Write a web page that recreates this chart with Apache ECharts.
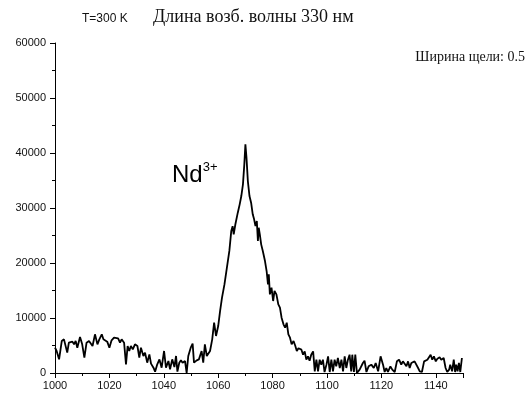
<!DOCTYPE html>
<html>
<head>
<meta charset="utf-8">
<script src="https://cdn.jsdelivr.net/npm/echarts@6/dist/echarts.min.js"></script>
<style>html,body{margin:0;padding:0;background:#fff}#c{width:527px;height:396px}</style>
</head>
<body>
<div id="c"></div>
<script>
// Data (wavelength in nm, intensity in counts)
var wavelength = [
1000.0,1000.6,1001.5,1002.5,1003.3,1003.9,1004.5,1005.1,1005.8,1006.4,1007.0,1007.6,1008.2,1009.2,1010.0,1010.8,1011.6,1012.5,1013.2,1013.8,
1014.7,1015.6,1016.3,1017.2,1017.8,1018.4,1019.2,1020.0,1020.8,1021.7,1022.4,1023.2,1023.9,1024.5,1025.4,1026.1,1026.7,1027.3,1027.9,1028.6,
1029.4,1030.3,1031.0,1031.6,1032.5,1033.1,1033.9,1034.7,1035.3,1036.2,1036.8,1037.6,1038.4,1039.2,1040.1,1040.8,1041.7,1042.3,1043.1,1043.9,
1044.5,1045.0,1045.7,1046.3,1046.9,1047.8,1048.4,1049.0,1049.9,1050.6,1051.1,1052.1,1052.9,1053.9,1054.5,1055.1,1055.8,1056.4,1057.0,1057.8,
1058.5,1059.2,1060.0,1060.7,
1061.4,1062.3,1063.2,1064.1,1064.8,1065.3,1065.7,1066.3,1067.2,1067.9,1068.5,1069.1,1069.6,1070.0,1070.4,1070.9,1071.5,1072.1,1072.7,1073.2,
1073.7,1074.2,1074.6,1074.9,1075.3,1075.8,1076.4,1077.2,1077.8,1078.3,1078.6,1079.0,1079.6,1080.2,1080.7,1081.4,1082.1,1082.7,1083.3,1084.0,
1084.6,1085.2,1085.8,1086.4,1087.0,1087.7,1088.3,1088.9,1089.5,
1090.0,1090.6,1091.2,1091.8,1092.4,1093.0,1093.6,1094.2,1094.9,1095.5,1096.1,1096.7,1097.3,1097.9,1098.5,1099.1,1099.8,1100.4,1101.0,1101.6,
1102.2,1102.8,1103.4,1104.0,1104.7,1105.3,1105.9,1106.5,1107.1,1107.7,1108.3,1108.9,1109.3,1109.9,1110.4,1111.0,1112.0,1113.2,1113.8,1114.5,
1115.3,1116.3,1117.2,1117.9,1118.8,1119.7,1120.6,1121.2,1121.8,1122.4,1123.3,1124.0,1124.9,1125.7,1126.5,1127.3,1127.9,1128.6,1129.2,1129.8,
1130.4,1131.0,1131.6,1132.2,1132.8,1133.5,1134.1,1134.9,1135.7,1136.3,1136.9,1137.5,1138.1,1138.7,1139.3,1140.0,1140.6,1141.4,1142.0,1142.9,
1143.6,1144.2,1144.9,1145.3,1146.0,1146.6,1147.1,1147.5,1148.0,1148.5,1149.0,1149.6
];
var intensity = [
4600,4000,2480,5820,6120,5940,3700,5510,5210,5700,5210,5820,4600,6540,5210,2790,5510,5820,5510,4910,
7030,5210,6120,7030,6120,5820,5700,4600,5940,6420,6730,6300,5510,6120,5510,1580,4910,4000,4910,4300,
5210,4910,2790,4600,3090,3700,1880,3390,1700,970,240,1580,2480,970,4000,970,2180,670,2480,1090,
3090,240,1880,2300,1880,2180,0,3090,4600,5330,1880,2300,2480,4000,1880,5210,3090,3390,4000,6120,
9150,6730,8540,11300,
13700,16100,19150,22200,25800,26700,25200,27000,29150,30660,32180,34300,37940,41570,39150,34900,32180,30970,28850,27940,
26720,27630,24000,26420,25210,23390,22180,20360,18540,16120,17940,14300,15510,13090,14910,14300,12480,11880,10060,8850,
8240,9150,7030,6420,5210,5820,5000,4000,4500,
4800,4240,3330,3940,2420,3030,2240,3330,3940,300,2420,300,2420,1520,2420,180,1520,3030,180,2420,
300,2420,1210,2730,910,2420,300,3030,910,2420,3330,300,3330,180,3330,0,610,1820,2240,180,
1210,1520,910,1820,300,3030,1520,180,910,180,1210,610,180,2120,2420,1520,2120,1820,1210,2120,
910,1820,1520,2120,1820,910,300,180,2120,1820,2420,2730,3330,2420,3030,2120,2610,2850,2420,2730,
910,180,610,1520,300,2420,180,1520,300,1820,180,2730
];
var xRange = [1000, 1150];
var yRange = [0, 60000];
var titleText = 'Длина возб. волны 330 нм';
var tempText = 'T=300 K';
var slitText = 'Ширина щели: 0.5';

var points = wavelength.map(function (w, i) { return [w, intensity[i]]; });
var chart = echarts.init(document.getElementById('c'), null, {renderer: 'canvas'});
var sans = '"Liberation Sans", Arial, sans-serif';
var serif = '"Liberation Serif", "Times New Roman", serif';
function plain(v) { return String(v); }
chart.setOption({
  animation: false,
  backgroundColor: '#fff',
  grid: {left: 55, right: 64, top: 43, bottom: 23},
  xAxis: {
    type: 'value', min: xRange[0], max: xRange[1], interval: 20,
    axisLine: {lineStyle: {color: '#000', width: 1}},
    axisTick: {show: true, inside: false, length: 5, lineStyle: {color: '#000'}},
    minorTick: {show: true, splitNumber: 2, length: 3, lineStyle: {color: '#000'}},
    splitLine: {show: false},
    axisLabel: {color: '#111', fontSize: 11, fontFamily: sans, margin: 7, showMaxLabel: false, formatter: plain}
  },
  yAxis: {
    type: 'value', min: yRange[0], max: yRange[1], interval: 10000,
    axisLine: {show: true, lineStyle: {color: '#000', width: 1}},
    axisTick: {show: true, inside: false, length: 5, lineStyle: {color: '#000'}},
    minorTick: {show: true, splitNumber: 2, length: 3, lineStyle: {color: '#000'}},
    splitLine: {show: false},
    axisLabel: {color: '#111', fontSize: 11, fontFamily: sans, margin: 9, formatter: plain}
  },
  series: [{
    type: 'line', data: points, showSymbol: false, symbol: 'none',
    lineStyle: {color: '#000', width: 1.8}, clip: true
  }],
  graphic: [
    {type: 'text', left: 82, top: 13, style: {text: tempText, font: '12px ' + sans, fill: '#111'}},
    {type: 'text', left: 153, top: 8, style: {text: titleText, font: '18px ' + serif, fill: '#111'}},
    {type: 'text', right: 2, top: 50, style: {text: slitText, font: '14px ' + serif, fill: '#111'}},
    {type: 'text', left: 172, top: 161, style: {
      text: '{a|Nd}{b|3+}',
      rich: {a: {fontSize: 24, fontFamily: sans, fill: '#000', verticalAlign: 'bottom'},
             b: {fontSize: 13, fontFamily: sans, fill: '#000', verticalAlign: 'top', padding: [0,0,13,0]}}
    }}
  ]
});
</script>
</body>
</html>
